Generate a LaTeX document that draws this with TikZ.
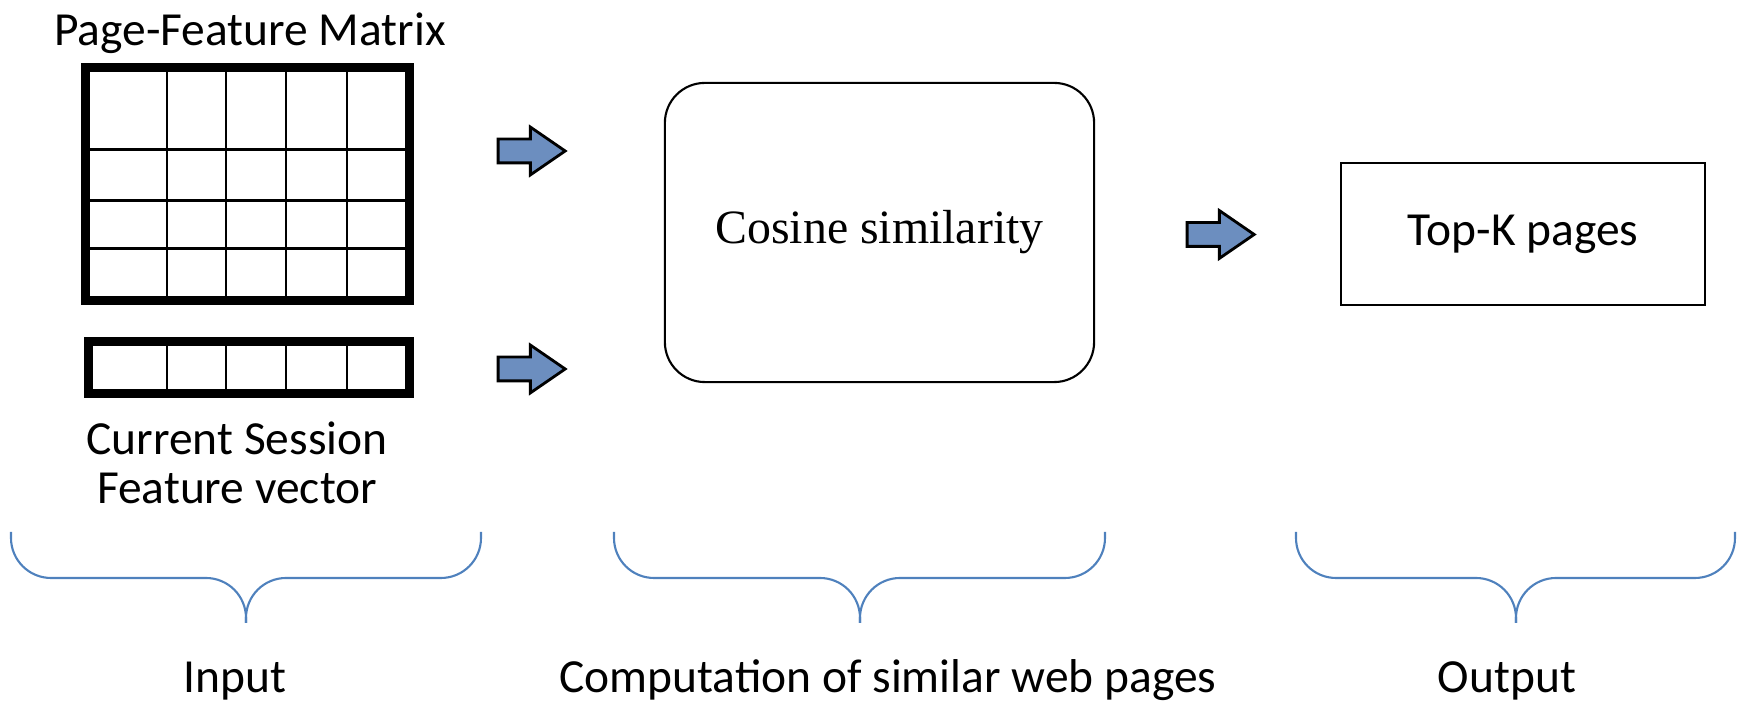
\documentclass[tikz,border=0pt]{standalone}
\usepackage{fontspec}
\setmainfont{Carlito}
\newfontfamily\bodyserif{Liberation Serif}
\usetikzlibrary{shapes.arrows}
\definecolor{ink}{HTML}{000000}
\definecolor{arrowfill}{HTML}{6C8EBF}
\definecolor{braceblue}{HTML}{4F81BD}
\tikzset{
  tablebox/.style={draw=ink, line width=2.6pt, inner sep=0pt},
  cellline/.style={draw=ink, line width=0.85pt},
  stagebox/.style={draw=ink, line width=0.6pt, inner sep=0pt, align=center},
  blockarr/.style={single arrow, draw=ink, fill=arrowfill, line width=0.8pt,
                   inner xsep=0pt, inner ysep=0.105cm, minimum height=0.67cm, minimum width=0.45cm,
                   single arrow head extend=0.12cm, single arrow tip angle=69},
  bracket/.style={draw=braceblue, line width=0.6pt, rounded corners=0.4cm},
  caption/.style={font=\fontsize{13.5pt}{14.2pt}\selectfont, inner sep=0pt, align=center}
}

\begin{document}
\begin{tikzpicture}[x=0.01cm,y=-0.01cm]
  \useasboundingbox (0,0) rectangle (1741,701);

  % Input tables
  \node[tablebox, minimum width=3.24cm, minimum height=2.33cm] (pfm) at (247.5,184) {};
  \foreach \x in {167,226,286,347} \draw[cellline] (\x,67.5) -- (\x,300.5);
  \foreach \y in {150,201,249} \draw[cellline] (85.5,\y) -- (409.5,\y);

  \node[tablebox, minimum width=3.21cm, minimum height=0.52cm] (csv) at (249,367.5) {};
  \foreach \x in {167,226,286,347} \draw[cellline] (\x,341.5) -- (\x,393.5);

  \node[caption, anchor=base] (pfmlabel) at (250,46) {Page-Feature Matrix};
  \node[caption, anchor=base] (csvlabel) at (237,504) {Current Session\\Feature vector};

  % Processing and result
  \node[stagebox, rounded corners=0.4cm, minimum width=4.29cm, minimum height=2.99cm,
        font=\bodyserif\fontsize{13.6pt}{16pt}\selectfont] (cos) at (879.5,232.5) {Cosine similarity};
  \node[stagebox, line width=0.7pt, minimum width=3.64cm, minimum height=1.42cm,
        font=\fontsize{13.5pt}{16pt}\selectfont] (topk) at (1523,234) {Top-K pages};

  % Block arrows
  \node[blockarr] (arrA) at (523,151) {};
  \node[blockarr] (arrB) at (523,369) {};
  \node[blockarr] (arrC) at (1212,234.5) {};

  % Braces with stage names
  \foreach \l/\m/\r in {11/246/481, 614/860/1105, 1296/1516/1735} {
    \draw[bracket] (\l,532) |- (\m,578) -- (\m,623);
    \draw[bracket] (\r,532) |- (\m,578) -- (\m,623);
  }
  \node[caption, anchor=base] (inlabel) at (235,693) {Input};
  \node[caption, anchor=base] (complabel) at (888,693) {Computation of similar web pages};
  \node[caption, anchor=base] (outlabel) at (1507,693) {Output};
\end{tikzpicture}
\end{document}
